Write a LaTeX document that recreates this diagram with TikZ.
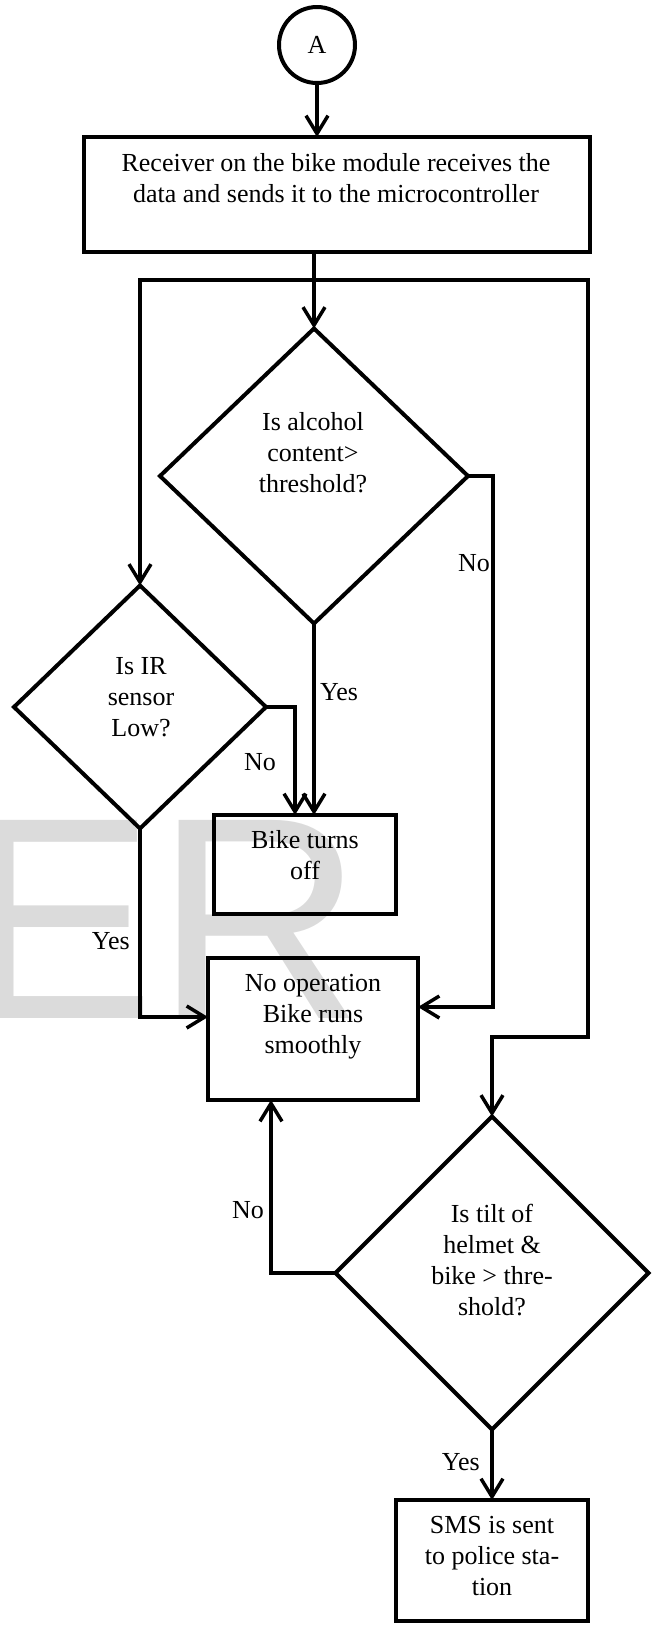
\documentclass[tikz,border=0pt]{standalone}
\usepackage{fontspec}
\setmainfont{Liberation Serif}
\newfontfamily\wmfont{Liberation Sans}
\usetikzlibrary{shapes.geometric,arrows.meta}
\begin{document}
\begin{tikzpicture}[x=1pt,y=-1pt,
  font=\fontsize{26}{31}\selectfont,
  fig/.style={draw,line width=4pt,inner sep=0pt,outer sep=0pt},
  box/.style={fig,rectangle},
  dec/.style={fig,diamond},
  txt/.style={align=center,inner sep=0pt},
  lbl/.style={inner sep=0pt},
  conn/.style={line width=3.5pt},
  arr/.style={conn,-{Straight Barb[length=18pt,width=22pt]}},
  arrs/.style={conn,{Straight Barb[length=18pt,width=22pt]}-{Straight Barb[length=18pt,width=22pt]}}]
\useasboundingbox (0,0) rectangle (657,1626);
% watermark
\begin{scope}
\clip (0,0) rectangle (657,1626);
\node[anchor=base west,inner sep=0pt,text=black!14,font=\wmfont\fontsize{288}{288}\selectfont] (wm) at (-37,1018) {ER};
\end{scope}
% shapes
\node[fig,circle,minimum size=76pt] (A) at (317,45) {A};
\node[box,minimum width=506pt,minimum height=115pt] (recv) at (337,194.5) {};
\node[txt] (recvt) at (336,178.5) {Receiver on the bike module receives the\\data and sends it to the microcontroller};
\node[dec,minimum width=308pt,minimum height=295pt] (alc) at (314,476) {};
\node[txt] (alct) at (313,453) {Is alcohol\\content>\\threshold?};
\node[dec,minimum width=252pt,minimum height=243pt] (ir) at (140,707) {};
\node[txt] (irt) at (141,697) {Is IR\\sensor\\Low?};
\node[box,minimum width=182pt,minimum height=99pt] (off) at (305,864.5) {};
\node[txt] (offt) at (305,855) {Bike turns\\off};
\node[box,minimum width=210pt,minimum height=142pt] (noop) at (313,1029) {};
\node[txt] (noopt) at (313,1017) {No operation\\Bike runs\\smoothly};
\node[dec,minimum width=313pt,minimum height=313pt] (tilt) at (492,1273) {};
\node[txt] (tiltt) at (492,1260) {Is tilt of\\helmet \&\\bike > thre-\\shold?};
\node[box,minimum width=192pt,minimum height=121pt] (sms) at (492,1560.5) {};
\node[txt] (smst) at (492,1556) {SMS is sent\\to police sta-\\tion};
% bend points
\coordinate (jL) at (140,280);
\coordinate (jR) at (588,280);
\coordinate (kR) at (588,1037);
\coordinate (bA) at (493,1007);
\coordinate (bI) at (295,708);
\coordinate (bY) at (141,1017);
\coordinate (bT) at (271,1273);
% connectors
\draw[arr] (A.south) -- (A.south |- recv.north);
\draw[arr] (alc.north |- recv.south) -- (alc.north);
\draw[arrs] (ir.north) -- (ir.north |- jL) -- (jR) -- (kR) -| (tilt.north);
\draw[arr] (alc.east) -| (bA) -- (bA -| noop.east);
\draw[arr] (alc.south) -- (alc.south |- off.north);
\draw[arr] (ir.east) -| (bI |- off.north);
\draw[arr] (ir.south) |- (noop.west |- bY);
\draw[arr] (tilt.west) -| (bT |- noop.south);
\draw[arr] (tilt.south) -- (sms.north);
% labels
\node[lbl,anchor=east] (l1) at (490,563) {No};
\node[lbl,anchor=west] (l2) at (320,692) {Yes};
\node[lbl,anchor=east] (l3) at (276,762) {No};
\node[lbl,anchor=east] (l4) at (130,941) {Yes};
\node[lbl,anchor=east] (l5) at (264,1210) {No};
\node[lbl,anchor=east] (l6) at (480,1462) {Yes};
\end{tikzpicture}
\end{document}
